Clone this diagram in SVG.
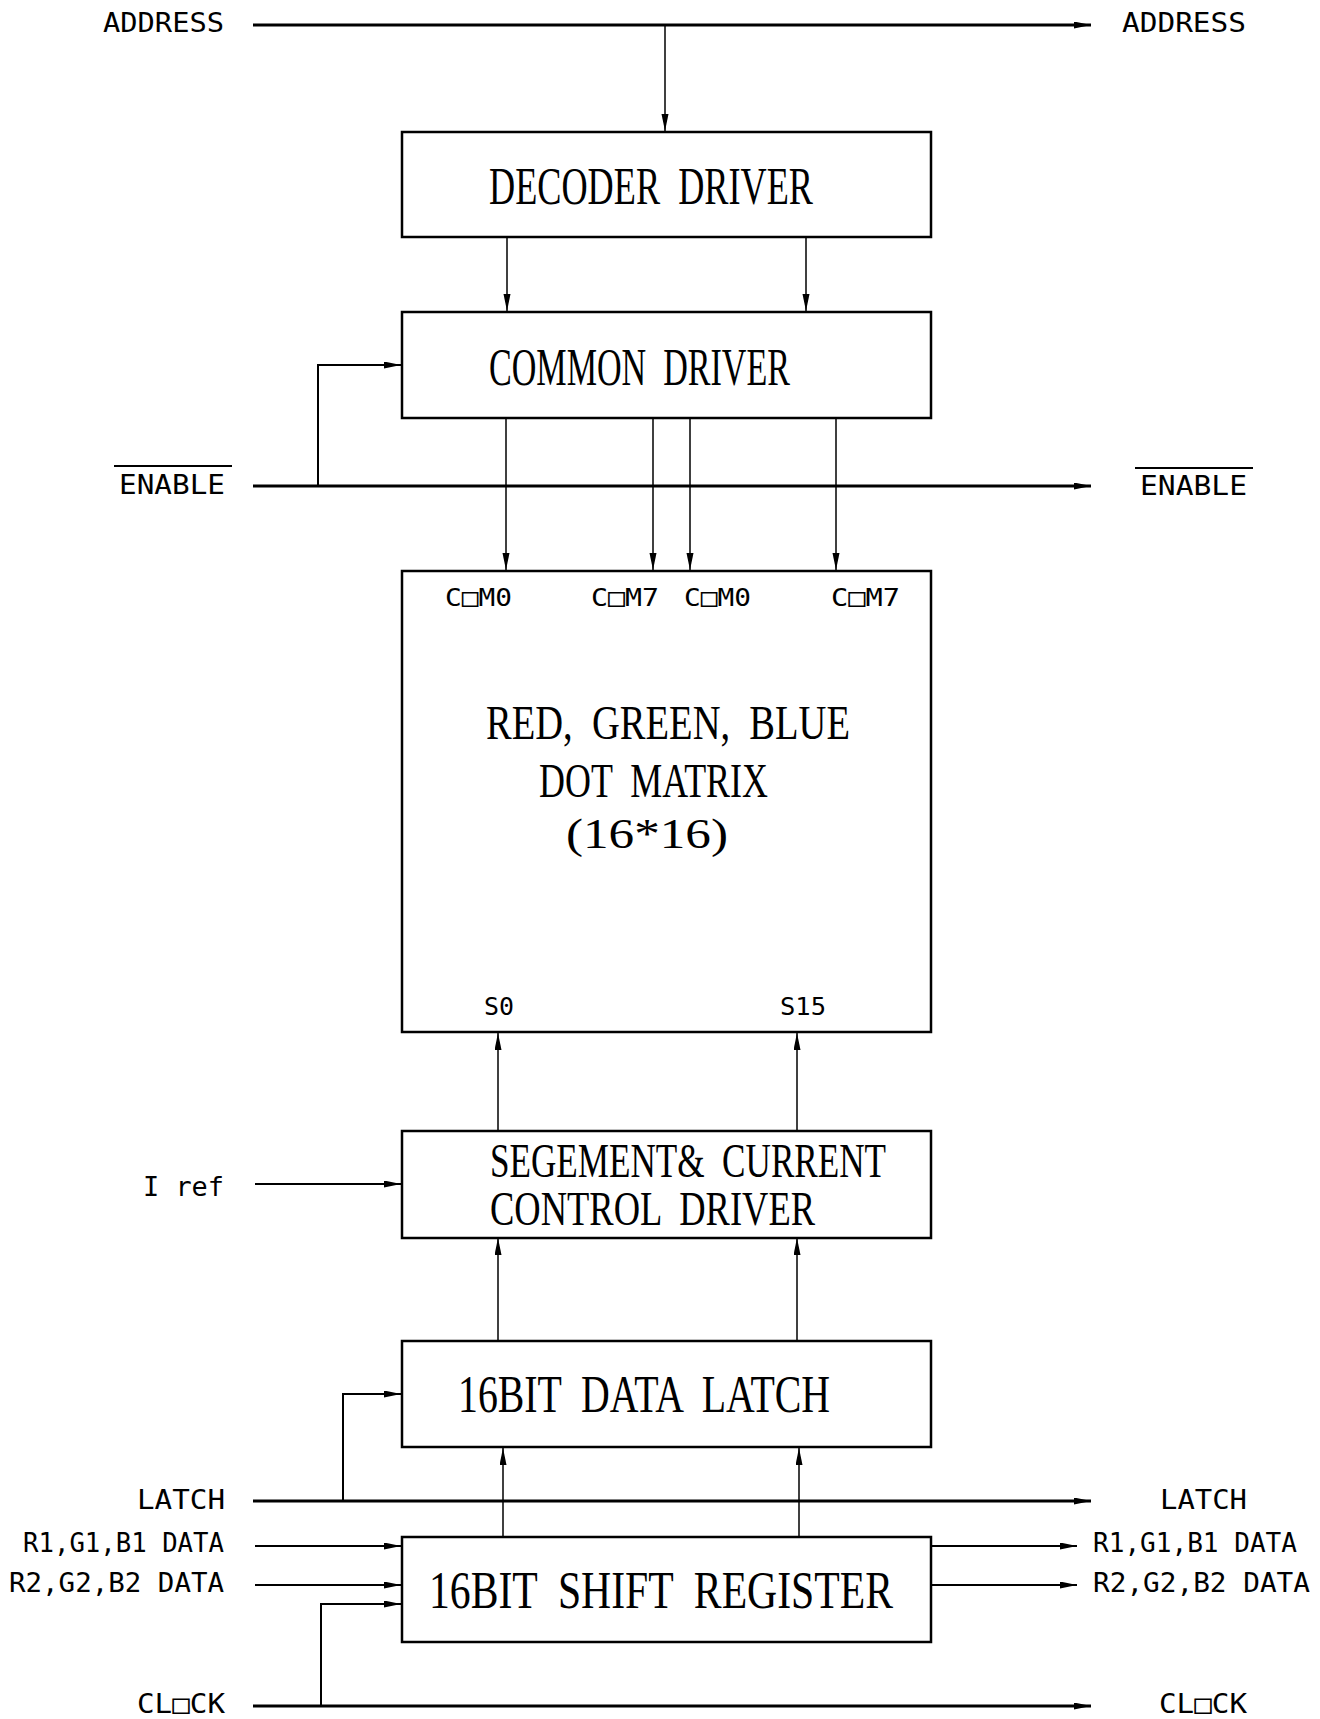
<svg xmlns="http://www.w3.org/2000/svg" width="1320" height="1719" viewBox="0 0 1320 1719">
<defs>
<marker id="ah" markerUnits="userSpaceOnUse" markerWidth="18" markerHeight="8" refX="17" refY="3.5" orient="auto">
<path d="M0,0 L17,3.5 L0,7 z" fill="#000"/>
</marker>
<style>
.box{fill:#fff;stroke:#000;stroke-width:2.5}
.bt{font-family:"Liberation Serif","DejaVu Serif",serif;font-size:52px;fill:#000;white-space:pre}
.bt2{font-family:"Liberation Serif","DejaVu Serif",serif;font-size:48px;fill:#000;white-space:pre}
.mt{font-family:"Liberation Serif","DejaVu Serif",serif;font-size:49px;fill:#000;white-space:pre}
.mt2{font-family:"Liberation Serif","DejaVu Serif",serif;font-size:43px;fill:#000}
.lb{font-family:"DejaVu Sans Mono","Liberation Mono",monospace;font-size:26px;fill:#000}
.sm{font-family:"DejaVu Sans Mono","Liberation Mono",monospace;font-size:25px;fill:#000}
.bus{stroke:#000;stroke-width:3;fill:none}
.thin{stroke:#000;stroke-width:1.5;fill:none}
.mid{stroke:#000;stroke-width:2;fill:none}
.ov{stroke:#000;stroke-width:2}
</style>
</defs>
<rect width="1320" height="1719" fill="#fff"/>

<g id="connectors">
<line class="bus" x1="253" y1="25" x2="1091" y2="25" marker-end="url(#ah)"/>
<line class="thin" x1="665" y1="25" x2="665" y2="131" marker-end="url(#ah)"/>
<line class="thin" x1="507" y1="237" x2="507" y2="311" marker-end="url(#ah)"/>
<line class="thin" x1="806" y1="237" x2="806" y2="311" marker-end="url(#ah)"/>
<line class="bus" x1="253" y1="486" x2="1091" y2="486" marker-end="url(#ah)"/>
<path class="mid" d="M318,486 V365 H401" marker-end="url(#ah)"/>
<line class="thin" x1="506" y1="418" x2="506" y2="570" marker-end="url(#ah)"/>
<line class="thin" x1="653" y1="418" x2="653" y2="570" marker-end="url(#ah)"/>
<line class="thin" x1="690" y1="418" x2="690" y2="570" marker-end="url(#ah)"/>
<line class="thin" x1="836" y1="418" x2="836" y2="570" marker-end="url(#ah)"/>
<line class="thin" x1="498" y1="1131" x2="498" y2="1033" marker-end="url(#ah)"/>
<line class="thin" x1="797" y1="1131" x2="797" y2="1033" marker-end="url(#ah)"/>
<line class="thin" x1="498" y1="1341" x2="498" y2="1238" marker-end="url(#ah)"/>
<line class="thin" x1="797" y1="1341" x2="797" y2="1238" marker-end="url(#ah)"/>
<line class="thin" x1="503" y1="1537" x2="503" y2="1448" marker-end="url(#ah)"/>
<line class="thin" x1="799" y1="1537" x2="799" y2="1448" marker-end="url(#ah)"/>
<line class="mid" x1="255" y1="1184" x2="401" y2="1184" marker-end="url(#ah)"/>
<line class="bus" x1="253" y1="1501" x2="1091" y2="1501" marker-end="url(#ah)"/>
<path class="mid" d="M343,1501 V1394 H401" marker-end="url(#ah)"/>
<line class="mid" x1="255" y1="1546" x2="401" y2="1546" marker-end="url(#ah)"/>
<line class="mid" x1="255" y1="1585" x2="401" y2="1585" marker-end="url(#ah)"/>
<line class="bus" x1="253" y1="1706" x2="1091" y2="1706" marker-end="url(#ah)"/>
<path class="mid" d="M321,1706 V1604 H401" marker-end="url(#ah)"/>
<line class="mid" x1="931" y1="1546" x2="1077" y2="1546" marker-end="url(#ah)"/>
<line class="mid" x1="931" y1="1585" x2="1077" y2="1585" marker-end="url(#ah)"/>
</g>

<g id="decoder-driver">
<rect class="box" x="402" y="132" width="529" height="105"/>
<text class="bt" x="489" y="204" textLength="324" lengthAdjust="spacingAndGlyphs">DECODER  DRIVER</text>
</g>

<g id="common-driver">
<rect class="box" x="402" y="312" width="529" height="106"/>
<text class="bt" x="489" y="385" textLength="301" lengthAdjust="spacingAndGlyphs">COMMON  DRIVER</text>
</g>

<g id="dot-matrix">
<rect class="box" x="402" y="571" width="529" height="461"/>
<text class="sm" x="445" y="606" textLength="67" lengthAdjust="spacingAndGlyphs">C□M0</text>
<text class="sm" x="591" y="606" textLength="68" lengthAdjust="spacingAndGlyphs">C□M7</text>
<text class="sm" x="684" y="606" textLength="67" lengthAdjust="spacingAndGlyphs">C□M0</text>
<text class="sm" x="831" y="606" textLength="69" lengthAdjust="spacingAndGlyphs">C□M7</text>
<text class="mt" x="486" y="739" textLength="364" lengthAdjust="spacingAndGlyphs">RED,  GREEN,  BLUE</text>
<text class="mt" x="539" y="797" textLength="229" lengthAdjust="spacingAndGlyphs">DOT  MATRIX</text>
<text class="mt2" x="566" y="848" textLength="162" lengthAdjust="spacingAndGlyphs">(16*16)</text>
<text class="sm" x="484" y="1015" textLength="30" lengthAdjust="spacingAndGlyphs">S0</text>
<text class="sm" x="780" y="1015" textLength="46" lengthAdjust="spacingAndGlyphs">S15</text>
</g>

<g id="segment-driver">
<rect class="box" x="402" y="1131" width="529" height="107"/>
<text class="bt2" x="490" y="1177" textLength="396" lengthAdjust="spacingAndGlyphs">SEGEMENT&amp;  CURRENT</text>
<text class="bt2" x="490" y="1225" textLength="325" lengthAdjust="spacingAndGlyphs">CONTROL  DRIVER</text>
</g>

<g id="data-latch">
<rect class="box" x="402" y="1341" width="529" height="106"/>
<text class="bt" x="458" y="1412" textLength="372" lengthAdjust="spacingAndGlyphs">16BIT  DATA  LATCH</text>
</g>

<g id="shift-register">
<rect class="box" x="402" y="1537" width="529" height="105"/>
<text class="bt" x="429" y="1608" textLength="464" lengthAdjust="spacingAndGlyphs">16BIT  SHIFT  REGISTER</text>
</g>

<g id="labels">
<text class="lb" x="103" y="32" textLength="121" lengthAdjust="spacingAndGlyphs">ADDRESS</text>
<text class="lb" x="1122" y="32" textLength="124" lengthAdjust="spacingAndGlyphs">ADDRESS</text>
<line class="ov" x1="114" y1="466" x2="232" y2="466"/>
<text class="lb" x="119" y="494" textLength="106" lengthAdjust="spacingAndGlyphs">ENABLE</text>
<line class="ov" x1="1135" y1="468" x2="1253" y2="468"/>
<text class="lb" x="1140" y="495" textLength="107" lengthAdjust="spacingAndGlyphs">ENABLE</text>
<text class="lb" x="143" y="1196" textLength="81" lengthAdjust="spacingAndGlyphs">I ref</text>
<text class="lb" x="137" y="1509" textLength="88" lengthAdjust="spacingAndGlyphs">LATCH</text>
<text class="lb" x="1160" y="1509" textLength="87" lengthAdjust="spacingAndGlyphs">LATCH</text>
<text class="lb" x="23" y="1552" textLength="201" lengthAdjust="spacingAndGlyphs">R1,G1,B1 DATA</text>
<text class="lb" x="9" y="1592" textLength="215" lengthAdjust="spacingAndGlyphs">R2,G2,B2 DATA</text>
<text class="lb" x="1093" y="1552" textLength="204" lengthAdjust="spacingAndGlyphs">R1,G1,B1 DATA</text>
<text class="lb" x="1093" y="1592" textLength="217" lengthAdjust="spacingAndGlyphs">R2,G2,B2 DATA</text>
<text class="lb" x="137" y="1713" textLength="88" lengthAdjust="spacingAndGlyphs">CL□CK</text>
<text class="lb" x="1159" y="1713" textLength="88" lengthAdjust="spacingAndGlyphs">CL□CK</text>
</g>
</svg>
